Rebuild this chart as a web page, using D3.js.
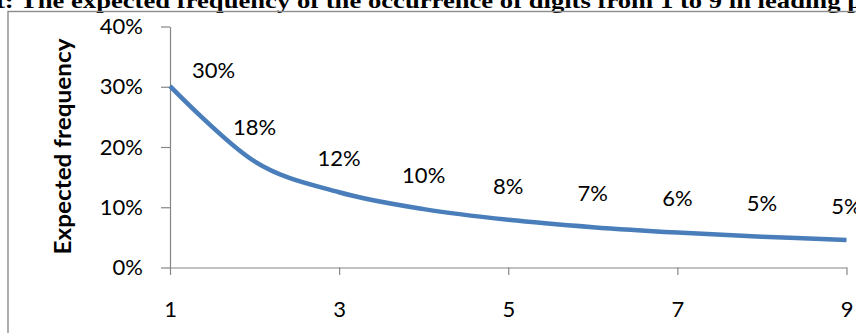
<!DOCTYPE html>
<html>
<head>
<meta charset="utf-8">
<script src="https://cdn.jsdelivr.net/npm/d3@7/dist/d3.min.js"></script>
<style>
  html, body { margin: 0; padding: 0; background: #fff; overflow: hidden; }
  svg { display: block; }
</style>
</head>
<body>
<svg id="chart" width="856" height="333"></svg>
<script>
// Leading digits and the Benford expected frequency of each
const digits = [1, 2, 3, 4, 5, 6, 7, 8, 9];
const frequency = [0.30103, 0.17609, 0.12494, 0.09691, 0.07918, 0.06695, 0.05799, 0.05115, 0.04576];
const xTickValues = [1, 3, 5, 7, 9];
const yTickValues = [0, 0.1, 0.2, 0.3, 0.4];
const titleText = "t: The expected frequency of the occurrence of digits from 1 to 9 in leading p";
const yAxisTitle = "Expected frequency";

const svg = d3.select("#chart");
const W = 856, H = 333;
const labelFont = "Lato, 'Open Sans', 'Liberation Sans', sans-serif";
const labelSize = 22;

const x = d3.scaleLinear().domain([1, 9]).range([170, 846.5]);
const y = d3.scaleLinear().domain([0, 0.4]).range([267.5, 26.5]);
const pct = d3.format(".0%");

// caption running along the top edge
svg.append("text")
  .attr("x", -4)
  .attr("y", 7.5)
  .attr("font-family", "'Liberation Serif', 'Times New Roman', serif")
  .attr("font-weight", "bold")
  .attr("font-size", 21)
  .attr("textLength", 866)
  .attr("lengthAdjust", "spacingAndGlyphs")
  .attr("fill", "#000")
  .text(titleText);

// chart area frame
svg.append("rect")
  .attr("x", 8)
  .attr("y", 11.5)
  .attr("width", W + 40)
  .attr("height", H + 40)
  .attr("fill", "none")
  .attr("stroke", "#8c8c8c")
  .attr("stroke-width", 1.4);

// y axis
const yAxis = svg.append("g")
  .attr("transform", `translate(${x.range()[0]},0)`)
  .call(d3.axisLeft(y).tickValues(yTickValues).tickFormat(pct)
    .tickSize(9).tickSizeOuter(0).tickPadding(18));

// x axis
const xAxis = svg.append("g")
  .attr("transform", `translate(0,${y(0)})`)
  .call(d3.axisBottom(x).tickValues(xTickValues).tickFormat(d3.format("d"))
    .tickSize(7.5).tickSizeOuter(0).tickPadding(26));

[yAxis, xAxis].forEach(g => {
  g.select(".domain").attr("stroke", "#868686").attr("stroke-width", 1.2);
  g.selectAll(".tick line").attr("stroke", "#868686").attr("stroke-width", 1.2);
  g.selectAll(".tick text")
    .attr("font-family", labelFont)
    .attr("font-size", labelSize)
    .attr("fill", "#000");
});

// y axis title
svg.append("text")
  .attr("transform", `translate(71,146.5) rotate(-90)`)
  .attr("text-anchor", "middle")
  .attr("font-family", labelFont)
  .attr("font-weight", "bold")
  .attr("font-size", 23)
  .attr("textLength", 216)
  .attr("lengthAdjust", "spacingAndGlyphs")
  .attr("fill", "#000")
  .text(yAxisTitle);

// smoothed frequency line
const line = d3.line()
  .x((d, i) => x(digits[i]))
  .y(d => y(d))
  .curve(d3.curveCatmullRom.alpha(0));

svg.append("path")
  .datum(frequency)
  .attr("d", line)
  .attr("fill", "none")
  .attr("stroke", "#4A7EBB")
  .attr("stroke-width", 4.5)
  .attr("stroke-linecap", "butt");

// value labels above each point; the first is nudged to the right of the axis
svg.append("g")
  .selectAll("text")
  .data(frequency)
  .join("text")
  .attr("x", (d, i) => i === 0 ? x(digits[i]) + 22 : x(digits[i]))
  .attr("y", (d, i) => i === 0 ? y(d) - 16 : y(d) - 34)
  .attr("dy", "0.36em")
  .attr("text-anchor", (d, i) => i === 0 ? "start" : "middle")
  .attr("font-family", labelFont)
  .attr("font-size", labelSize)
  .attr("fill", "#000")
  .text(d => pct(d));
</script>
</body>
</html>
